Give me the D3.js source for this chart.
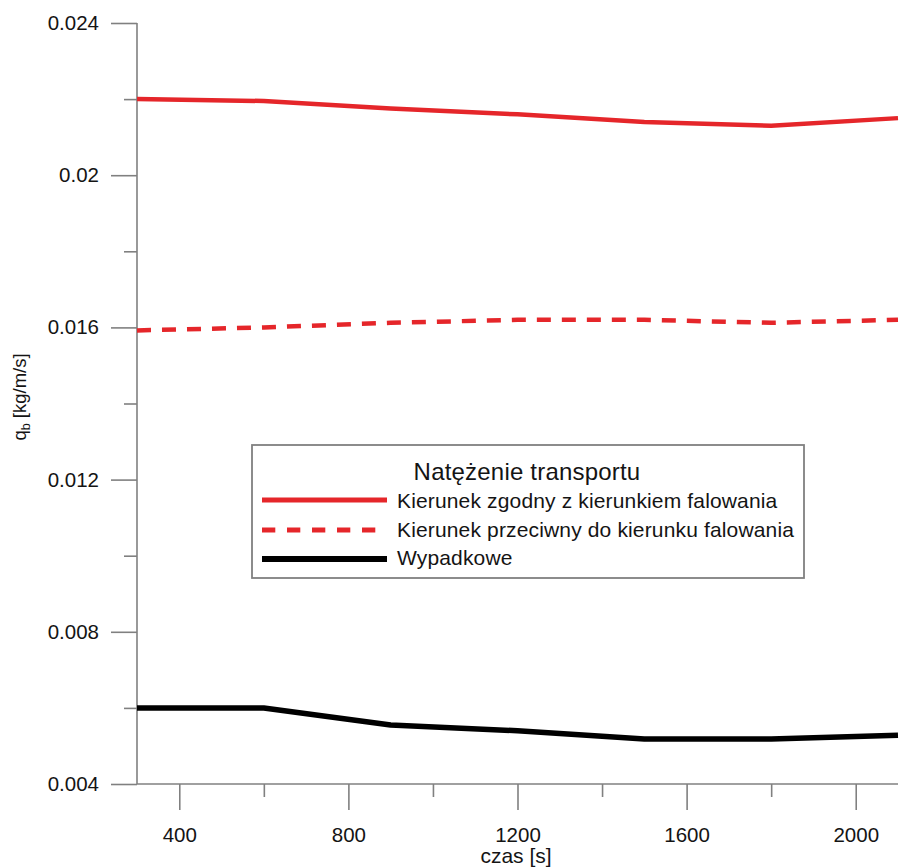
<!DOCTYPE html>
<html>
<head>
<meta charset="utf-8">
<script src="https://cdn.jsdelivr.net/npm/d3@7"></script>
<style>
  html, body { margin: 0; padding: 0; background: #fff; }
  svg { display: block; font-family: "Liberation Sans", Arial, Helvetica, sans-serif; }
</style>
</head>
<body>
<svg id="chart" width="903" height="868"></svg>
<script>
// Sediment transport rate over time (s)
const times = [300, 600, 900, 1200, 1500, 1800, 2100];
const zgodny = [0.0220, 0.02195, 0.02175, 0.0216, 0.0214, 0.0213, 0.0215];
const przeciwny = [0.01592, 0.0160, 0.01612, 0.0162, 0.0162, 0.01612, 0.0162];
const wypadkowe = [0.0060, 0.0060, 0.00555, 0.0054, 0.00518, 0.00518, 0.00528];

const xMajor = [400, 800, 1200, 1600, 2000];
const xMinor = [600, 1000, 1400, 1800];
const yMajor = [0.004, 0.008, 0.012, 0.016, 0.02, 0.024];
const yMinor = [0.006, 0.010, 0.014, 0.018, 0.022];
const yLabels = ["0.004", "0.008", "0.012", "0.016", "0.02", "0.024"];

const legendTitle = "Natężenie transportu";
const seriesNames = [
  "Kierunek zgodny z kierunkiem falowania",
  "Kierunek przeciwny do kierunku falowania",
  "Wypadkowe"
];

const svg = d3.select("#chart");
const plotL = 137, plotR = 898, plotT = 23, plotB = 784;
const axisColor = "#808080";
const textColor = "#141414";

const x = d3.scaleLinear().domain([300, 2100]).range([plotL, plotR]);
const y = d3.scaleLinear().domain([0.004, 0.024]).range([plotB, plotT]);

// Y axis: long major ticks, short minor ticks, both pointing left
const yAxisMajor = d3.axisLeft(y).tickValues(yMajor).tickSize(26).tickPadding(12)
  .tickFormat((d, i) => yLabels[i]);
const yAxisMinor = d3.axisLeft(y).tickValues(yMinor).tickSize(13).tickFormat("");

// X axis: ticks point down
const xAxisMajor = d3.axisBottom(x).tickValues(xMajor).tickSize(26).tickPadding(17)
  .tickFormat(d3.format("d"));
const xAxisMinor = d3.axisBottom(x).tickValues(xMinor).tickSize(13).tickFormat("");

function styleAxis(g) {
  g.select(".domain").remove();
  g.selectAll(".tick line").attr("stroke", axisColor).attr("stroke-width", 1.6);
  g.selectAll(".tick text").attr("fill", textColor).attr("font-size", 20.5)
    .attr("font-family", "'Liberation Sans', Arial, sans-serif");
}

svg.append("g").attr("transform", `translate(${plotL},0)`).call(yAxisMajor).call(styleAxis);
svg.append("g").attr("transform", `translate(${plotL},0)`).call(yAxisMinor).call(styleAxis);
svg.append("g").attr("transform", `translate(0,${plotB})`).call(xAxisMajor).call(styleAxis);
svg.append("g").attr("transform", `translate(0,${plotB})`).call(xAxisMinor).call(styleAxis);

// Axis lines
svg.append("line").attr("x1", plotL).attr("x2", plotL).attr("y1", plotT).attr("y2", plotB)
  .attr("stroke", axisColor).attr("stroke-width", 1.6);
svg.append("line").attr("x1", plotL).attr("x2", plotR).attr("y1", plotB).attr("y2", plotB)
  .attr("stroke", axisColor).attr("stroke-width", 1.6);

// Axis titles
svg.append("text").attr("x", 516).attr("y", 863)
  .attr("text-anchor", "middle").attr("font-size", 21).attr("fill", textColor)
  .text("czas [s]");

const yTitle = svg.append("text")
  .attr("transform", "translate(26,397) rotate(-90)")
  .attr("text-anchor", "middle").attr("font-size", 18.5).attr("fill", textColor);
yTitle.append("tspan").text("q");
yTitle.append("tspan").attr("font-size", 12.5).attr("dy", 4).text("b");
yTitle.append("tspan").attr("dy", -4).text(" [kg/m/s]");

// Series lines
const line = d3.line().x(d => x(d[0])).y(d => y(d[1]));
const series = [
  { values: zgodny, color: "#e5262a", width: 4.5, dash: null },
  { values: przeciwny, color: "#e5262a", width: 4.5, dash: "14,11" },
  { values: wypadkowe, color: "#000", width: 5.5, dash: null }
];

series.forEach(s => {
  svg.append("path")
    .datum(times.map((t, i) => [t, s.values[i]]))
    .attr("d", line)
    .attr("fill", "none")
    .attr("stroke", s.color)
    .attr("stroke-width", s.width)
    .attr("stroke-dasharray", s.dash)
    .attr("stroke-linejoin", "round");
});

// Legend
const lg = svg.append("g").attr("transform", "translate(252,445)");
lg.append("rect").attr("width", 552).attr("height", 133)
  .attr("fill", "#fff").attr("stroke", axisColor).attr("stroke-width", 1.8);
lg.append("text").attr("x", 275).attr("y", 35).attr("text-anchor", "middle")
  .attr("font-size", 24).attr("letter-spacing", 0.2)
  .attr("fill", textColor).text(legendTitle);

const rowLineY = [55, 85, 114];
const rowTextY = [63, 92, 120];
series.forEach((s, i) => {
  lg.append("line").attr("x1", 10).attr("x2", 135).attr("y1", rowLineY[i]).attr("y2", rowLineY[i])
    .attr("stroke", s.color).attr("stroke-width", s.width + 0.5)
    .attr("stroke-dasharray", s.dash ? "13.3,11.7" : null);
  lg.append("text").attr("x", 145).attr("y", rowTextY[i]).attr("font-size", 21)
    .attr("letter-spacing", 0.15)
    .attr("fill", textColor).text(seriesNames[i]);
});
</script>
</body>
</html>
